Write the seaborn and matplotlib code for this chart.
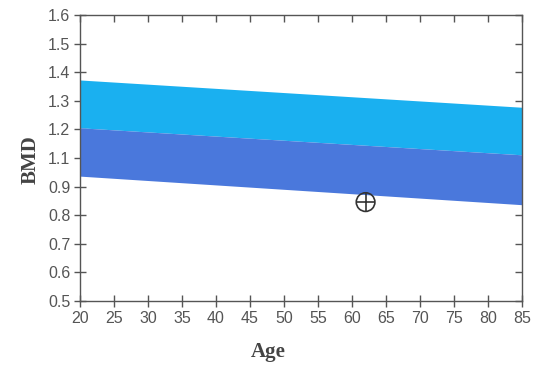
import numpy as np
import pandas as pd
import matplotlib
matplotlib.use("Agg")
import matplotlib.pyplot as plt
import seaborn as sns

# ---- data ----
ages = [20, 85]
upper_top = [1.35, 1.245]     # top of light (cyan) band
band_mid = [1.166, 1.062]     # boundary between light and dark band
lower_bot = [0.98, 0.87]      # bottom of dark band
patient_age = [62]
patient_bmd = [0.88]
x_ticks = [20, 25, 30, 35, 40, 45, 50, 55, 60, 65, 70, 75, 80, 85]
y_tick_labels = ["0.5", "0.6", "0.7", "0.8", "0.9", "1.1", "1.2", "1.3", "1.4", "1.5", "1.6"]

sns.set_theme(style="white")
plt.rcParams['font.family'] = ['Liberation Sans', 'DejaVu Sans']

fig = plt.figure(figsize=(5.37, 3.66), dpi=100)
ax = fig.add_axes([0.149, 0.178, 0.823, 0.781])

band = pd.DataFrame({"Age": ages, "top": upper_top, "mid": band_mid, "bot": lower_bot})
ax.fill_between(band["Age"], band["mid"], band["top"], color="#1AB0F0", linewidth=0)
ax.fill_between(band["Age"], band["bot"], band["mid"], color="#4A78DC", linewidth=0)

pt = pd.DataFrame({"Age": patient_age, "BMD": patient_bmd})
sns.scatterplot(data=pt, x="Age", y="BMD", ax=ax, s=180, marker="o",
                facecolor="none", edgecolor="#333333", linewidth=1.2, zorder=5)
sns.scatterplot(data=pt, x="Age", y="BMD", ax=ax, s=180, marker="+",
                color="#333333", linewidth=1.2, zorder=6)

ax.set_xlim(20, 85)
ax.set_ylim(0.5, 1.6)
ax.set_xticks(x_ticks)
ax.set_xticklabels([str(v) for v in x_ticks])
yt = np.linspace(0.5, 1.6, len(y_tick_labels))
ax.set_yticks(yt)
ax.set_yticklabels(y_tick_labels)

for s in ax.spines.values():
    s.set_color("#555555")
    s.set_linewidth(1.0)
    s.set_visible(True)

ax.tick_params(axis="both", which="major", labelsize=11.5, labelcolor="#555555",
               color="#555555", width=1.0, direction="in", length=5)
ax.tick_params(axis="x", top=True, bottom=True, pad=7)
ax.tick_params(axis="y", left=True, right=True, pad=7)
# left/bottom ticks cross the spine, top/right ticks point inward only
for t in ax.xaxis.get_major_ticks():
    t.tick1line.set_marker("|")
    t.tick1line.set_markersize(9)
for t in ax.yaxis.get_major_ticks():
    t.tick1line.set_marker("_")
    t.tick1line.set_markersize(9)

ax.set_xlabel("Age", family=["Liberation Serif"], fontweight="bold", fontsize=15,
              color="#444444")
ax.set_ylabel("BMD", family=["Liberation Serif"], fontweight="bold", fontsize=15,
              color="#444444")
ax.xaxis.set_label_coords(0.425, -0.145)
ax.yaxis.set_label_coords(-0.09, 0.495)

fig.savefig("out.png", dpi=100)
